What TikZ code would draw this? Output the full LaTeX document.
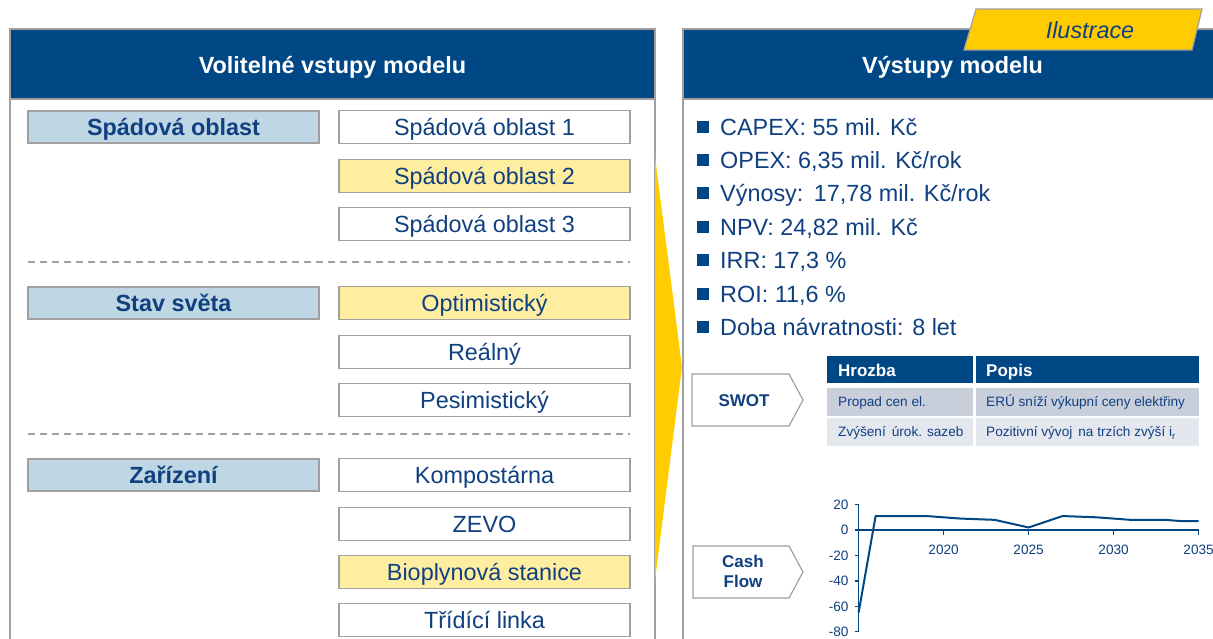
\documentclass[tikz,border=0pt]{standalone}
\usepackage{fontspec}
\setmainfont{Liberation Sans}
\definecolor{hdrblue}{RGB}{0,71,133}
\definecolor{txtblue}{RGB}{16,64,128}
\definecolor{catfill}{RGB}{191,215,228}
\definecolor{yelfill}{RGB}{255,238,160}
\definecolor{accyel}{RGB}{255,204,0}
\definecolor{bgray}{RGB}{160,160,160}
\definecolor{rowa}{RGB}{200,206,218}
\definecolor{rowb}{RGB}{228,231,238}
\newcommand\fbig{\fontsize{23.4}{28}\selectfont}
\newcommand\fmid{\fontsize{17}{20}\selectfont}
\newcommand\fsm{\fontsize{13.6}{16}\selectfont}
\begin{document}
\begin{tikzpicture}[x=1pt,y=-1pt,
  bigtx/.style={font=\fbig,text height=16.8pt,text depth=0pt},
  midtx/.style={font=\fmid,text height=12.2pt,text depth=0pt},
  smtx/.style={font=\fsm,text height=9.8pt,text depth=0pt},
  panelbox/.style={draw=bgray,line width=1.5pt},
  hdrbox/.style={fill=hdrblue,draw=bgray,line width=1.5pt},
  hdrtext/.style={bigtx,text=white,font=\fbig\bfseries},
  catbox/.style={bigtx,draw=bgray,line width=1.2pt,fill=catfill,minimum width=291pt,minimum height=32pt,inner sep=0pt,text=txtblue,font=\fbig\bfseries},
  optbox/.style={bigtx,draw=bgray,line width=1.2pt,fill=white,minimum width=291pt,minimum height=33pt,inner sep=0pt,text=txtblue},
  selbox/.style={optbox,fill=yelfill},
  sep/.style={draw=bgray,line width=1.2pt,dash pattern=on 7pt off 5pt},
  bullet/.style={fill=hdrblue,minimum size=12pt,inner sep=0pt},
  btext/.style={bigtx,anchor=west,text=txtblue,inner sep=0pt},
  tagbox/.style={draw=bgray,line width=1.2pt,fill=white},
  tagtext/.style={text=txtblue,font=\fmid\bfseries,align=center},
  ttext/.style={smtx,anchor=west,inner sep=0pt,text=txtblue},
  thtext/.style={midtx,anchor=west,inner sep=0pt,font=\fmid\bfseries,text=white},
  cline/.style={draw=hdrblue,line width=2pt,line join=round},
  axis/.style={draw=hdrblue,line width=1.4pt},
  ticklab/.style={smtx,text=txtblue,inner sep=0pt}
]
\useasboundingbox (0,0) rectangle (1213,638);
\clip (0,0) rectangle (1213,638);
% ---------- left panel ----------
\draw[panelbox,fill=white] (10,29) rectangle (655,660);
\draw[hdrbox] (10,29) rectangle (655,99);
\node[hdrtext] (lhdr) at (332.5,65) {Volitelné vstupy modelu};
\node[catbox] (c1) at (173.5,127) {Spádová oblast};
\node[optbox] (o11) at (484.5,127) {Spádová oblast 1};
\node[selbox] (o12) at (484.5,176) {Spádová oblast 2};
\node[optbox] (o13) at (484.5,224) {Spádová oblast 3};
\coordinate (s1a) at (28,262); \coordinate (s1b) at (630,262);
\draw[sep] (s1a) -- (s1b);
\node[catbox] (c2) at (173.5,303) {Stav světa};
\node[selbox] (o21) at (484.5,303) {Optimistický};
\node[optbox] (o22) at (484.5,352) {Reálný};
\node[optbox] (o23) at (484.5,400) {Pesimistický};
\coordinate (s2a) at (28,434); \coordinate (s2b) at (630,434);
\draw[sep] (s2a) -- (s2b);
\node[catbox] (c3) at (173.5,475) {Zařízení};
\node[optbox] (o31) at (484.5,475) {Kompostárna};
\node[optbox] (o32) at (484.5,524) {ZEVO};
\node[selbox] (o33) at (484.5,572) {Bioplynová stanice};
\node[optbox] (o34) at (484.5,620) {Třídící linka};
% ---------- right panel ----------
\draw[panelbox,fill=white] (683,29) rectangle (1230,660);
\draw[hdrbox] (683,29) rectangle (1230,99);
\node[hdrtext] (rhdr) at (952.5,65) {Výstupy modelu};
% tab
\draw[fill=accyel,draw=bgray,line width=1.2pt] (976,9) -- (1202,9) -- (1192,50) -- (964,50) -- cycle;
\node[bigtx,text=txtblue,font=\fbig\itshape] (tab) at (1090,30) {Ilustrace};
% yellow triangle
\fill[accyel] (655,157) -- (682,367) -- (655,580) -- cycle;
% bullets
\foreach \i/\y/\t in {1/127/{CAPEX: 55 mil. Kč},2/160/{OPEX: 6,35 mil. Kč/rok},3/193/{Výnosy:\ \,17,78 mil. Kč/rok},4/227/{NPV: 24,82 mil. Kč},5/260/{IRR: 17,3 \%},6/294/{ROI: 11,6 \%},7/327/{Doba návratnosti: 8 let}}{
  \node[bullet] (b\i) at (703,\y) {};
  \node[btext] (t\i) at (720,\y) {\t};
}
% SWOT tag
\draw[tagbox] (692,374) -- (789,374) -- (803,400) -- (789,426) -- (692,426) -- cycle;
\node[midtx,tagtext] (swot) at (744,400) {SWOT};
% table
\fill[hdrblue] (827,356) rectangle (973,383);
\fill[hdrblue] (976,356) rectangle (1199,383);
\fill[rowa] (827,388) rectangle (973,416);
\fill[rowa] (976,388) rectangle (1199,416);
\fill[rowb] (827,418) rectangle (973,446);
\fill[rowb] (976,418) rectangle (1199,446);
\node[thtext] (h1) at (838,370) {Hrozba};
\node[thtext] (h2) at (986,370) {Popis};
\node[ttext] (r11) at (838,402) {Propad cen el.};
\node[ttext] (r12) at (986,402) {ERÚ sníží výkupní ceny elektřiny};
\node[ttext] (r21) at (838,432) {Zvýšení\ \,úrok. sazeb};
\node[ttext] (r22) at (986,432) {Pozitivní vývoj\ \,na trzích zvýší i$_{\mathrm{r}}$};
% Cash flow tag
\draw[tagbox] (693,546) -- (789,546) -- (803,572) -- (789,598) -- (693,598) -- cycle;
\node[tagtext] (cf) at (743,571) {Cash\\Flow};
% chart
\begin{scope}[shift={(858.6,530)},x=17pt,y=1.27pt]
  \draw[axis] (0,20) -- (0,-80);
  \draw[axis] (0,0) -- (20,0);
  \foreach \v in {20,0,-20,-40,-60,-80}{
    \draw[axis] (-4pt,\v) -- (0,\v);
    \node[ticklab,anchor=east] at (-10pt,\v) {\v};
  }
  \foreach \k/\yr in {5/2020,10/2025,15/2030,20/2035}{
    \draw[axis] (\k,0) -- ([yshift=-5pt]\k,0);
    \node[ticklab,anchor=north] at ([yshift=-14pt]\k,0) {\yr};
  }
  \draw[cline] (0,-65) -- (1,11) -- (2,11) -- (3,11) -- (4,11) -- (5,10) -- (6,9) -- (7,8.5) -- (8,8) -- (9,5) -- (10,2) -- (11,6.5) -- (12,11) -- (13,10.5) -- (14,10) -- (15,9) -- (16,8) -- (17,8) -- (18,8) -- (19,7) -- (20,7);
\end{scope}
\end{tikzpicture}
\end{document}
